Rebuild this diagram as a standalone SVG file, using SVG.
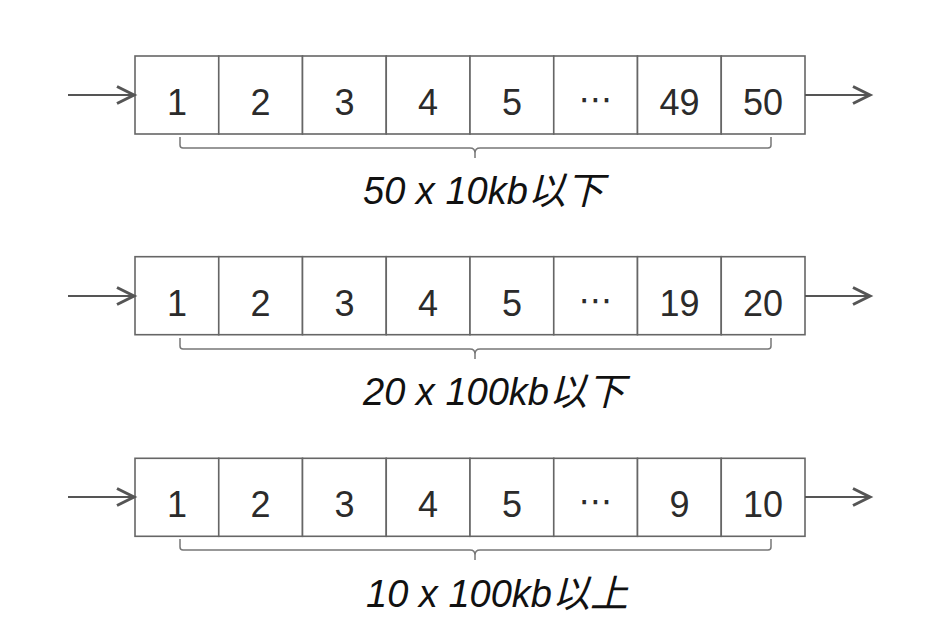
<svg xmlns="http://www.w3.org/2000/svg" width="940" height="628" viewBox="0 0 940 628">
<defs>
<style>
.cell{fill:#fff;stroke:#666;stroke-width:1.6}
.num{font-family:"Liberation Sans",Arial,"Noto Sans CJK SC",sans-serif;font-size:36px;fill:#2b2b2b;text-anchor:middle}
.dots{font-family:"DejaVu Sans","Liberation Sans",sans-serif;font-size:34px;fill:#2b2b2b;text-anchor:middle}
.lbl{font-family:"Liberation Sans",Arial,"Noto Sans CJK SC",sans-serif;font-size:38px;font-style:italic;fill:#111}
.arr{fill:none;stroke:#555;stroke-width:1.8}
.brk{fill:none;stroke:#777;stroke-width:1.5}
</style>
<marker id="ah" markerUnits="userSpaceOnUse" markerWidth="22" markerHeight="22" refX="18" refY="10" orient="auto" viewBox="0 0 22 22">
<path d="M1,1.5 L18,10 L1,18.5" fill="none" stroke="#555" stroke-width="3" stroke-linejoin="miter"/>
</marker>
<g id="cells">
<rect class="cell" x="135" y="0" width="83.75" height="78"/>
<rect class="cell" x="218.75" y="0" width="83.75" height="78"/>
<rect class="cell" x="302.5" y="0" width="83.75" height="78"/>
<rect class="cell" x="386.25" y="0" width="83.75" height="78"/>
<rect class="cell" x="470" y="0" width="83.75" height="78"/>
<rect class="cell" x="553.75" y="0" width="83.75" height="78"/>
<rect class="cell" x="637.5" y="0" width="83.75" height="78"/>
<rect class="cell" x="721.25" y="0" width="83.75" height="78"/>
</g>
</defs>

<g id="row1" transform="translate(0,56)">
<use href="#cells"/>
<text class="num" x="177" y="59">1</text>
<text class="num" x="260.6" y="59">2</text>
<text class="num" x="344.4" y="59">3</text>
<text class="num" x="428.1" y="59">4</text>
<text class="num" x="511.9" y="59">5</text>
<text class="dots" x="595.6" y="55">⋯</text>
<text class="num" x="679.4" y="59">49</text>
<text class="num" x="763.1" y="59">50</text>
</g>
<g id="label1"><text class="lbl" x="363" y="204">50 x 10kb以下</text></g>

<g id="row2" transform="translate(0,256.7)">
<use href="#cells"/>
<text class="num" x="177" y="59">1</text>
<text class="num" x="260.6" y="59">2</text>
<text class="num" x="344.4" y="59">3</text>
<text class="num" x="428.1" y="59">4</text>
<text class="num" x="511.9" y="59">5</text>
<text class="dots" x="595.6" y="55">⋯</text>
<text class="num" x="679.4" y="59">19</text>
<text class="num" x="763.1" y="59">20</text>
</g>
<g id="label2"><text class="lbl" x="363" y="405">20 x 100kb以下</text></g>

<g id="row3" transform="translate(0,458.3)">
<use href="#cells"/>
<text class="num" x="177" y="59">1</text>
<text class="num" x="260.6" y="59">2</text>
<text class="num" x="344.4" y="59">3</text>
<text class="num" x="428.1" y="59">4</text>
<text class="num" x="511.9" y="59">5</text>
<text class="dots" x="595.6" y="55">⋯</text>
<text class="num" x="679.4" y="59">9</text>
<text class="num" x="763.1" y="59">10</text>
</g>
<g id="label3"><text class="lbl" x="366" y="607">10 x 100kb以上</text></g>

<g id="connectors">
<line class="arr" x1="68" y1="95" x2="134" y2="95" marker-end="url(#ah)"/>
<line class="arr" x1="805" y1="95" x2="870" y2="95" marker-end="url(#ah)"/>
<line class="arr" x1="68" y1="296" x2="134" y2="296" marker-end="url(#ah)"/>
<line class="arr" x1="805" y1="296" x2="870" y2="296" marker-end="url(#ah)"/>
<line class="arr" x1="68" y1="497" x2="134" y2="497" marker-end="url(#ah)"/>
<line class="arr" x1="805" y1="497" x2="870" y2="497" marker-end="url(#ah)"/>
<path class="brk" d="M180,137 V145 Q180,148 183,148 H470 Q475,148 475,153 Q475,148 480,148 H768 Q771,148 771,145 V137 M475,153 V158"/>
<path class="brk" d="M180,338 V346 Q180,349 183,349 H470 Q475,349 475,354 Q475,349 480,349 H768 Q771,349 771,346 V338 M475,354 V359"/>
<path class="brk" d="M180,539 V547 Q180,550 183,550 H470 Q475,550 475,555 Q475,550 480,550 H768 Q771,550 771,547 V539 M475,555 V560"/>
</g>
</svg>
